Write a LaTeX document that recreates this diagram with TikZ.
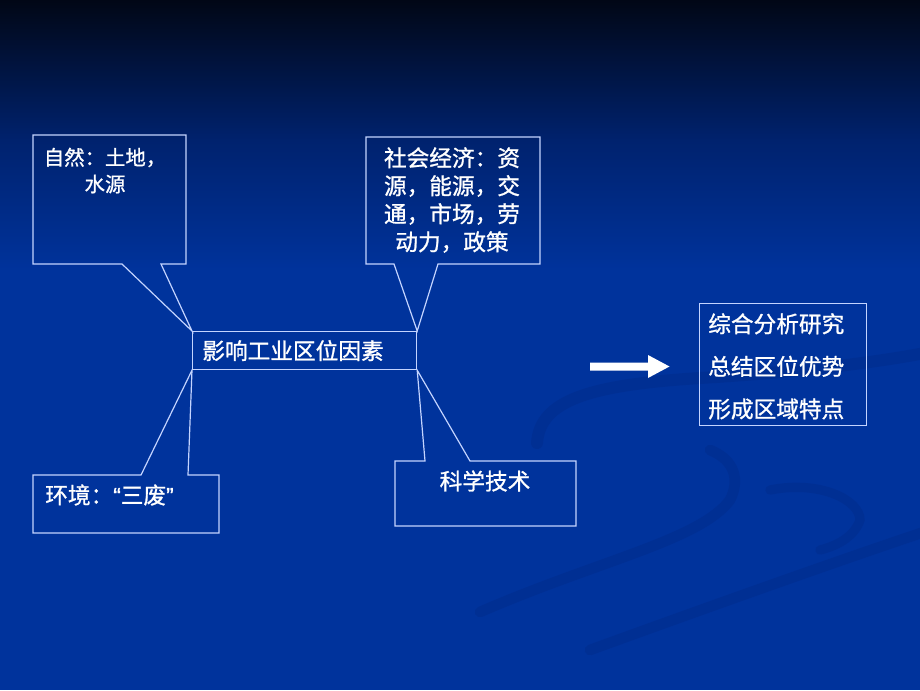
\documentclass[tikz,border=0pt]{standalone}
\usepackage{fontspec}
\setmainfont[FakeBold=1]{Noto Sans CJK SC}
\newfontfamily\latq[FakeBold=1]{Liberation Sans}
\definecolor{bgtop}{HTML}{010716}
\definecolor{bgmid}{HTML}{00226E}
\definecolor{bgblue}{HTML}{00339C}
\definecolor{swoosh}{HTML}{002680}
\definecolor{linec}{HTML}{C4D4FF}
\begin{document}
\begin{tikzpicture}[x=0.75pt,y=-0.75pt,
  callout/.style={draw=linec, line width=0.9pt, line join=miter},
  txt/.style={text=white, inner sep=0pt},
  big/.style={font=\fontsize{17pt}{21pt}\selectfont},
  small/.style={font=\fontsize{15.3pt}{20pt}\selectfont},
  swo/.style={draw=swoosh, line cap=round, opacity=0.3}]
% background
\fill[top color=bgtop, bottom color=bgmid] (0,0) rectangle (920,141);
\fill[top color=bgmid, bottom color=bgblue] (0,140) rectangle (920,271);
\fill[bgblue] (0,270) rectangle (920,690);
\useasboundingbox (0,0) rectangle (920,690);
% decorative swooshes
\draw[swo, line width=9pt] (537,443) .. controls (540,400) and (590,385) .. (700,378) .. controls (800,372) and (880,362) .. (930,352);
\draw[swo, line width=8pt] (480,612) .. controls (600,560) and (700,540) .. (730,500) .. controls (740,480) and (735,460) .. (710,450);
\draw[swo, line width=8pt] (590,650) .. controls (700,610) and (840,560) .. (930,530);
\draw[swo, line width=7pt] (770,490) .. controls (820,480) and (860,500) .. (860,520) .. controls (855,535) and (840,545) .. (820,550);
% central box
\node[draw=linec, line width=0.9pt, anchor=north west, minimum width=168pt, minimum height=28.5pt,
      inner xsep=7.3pt, inner ysep=0pt, text width=153.4pt, align=left, text=white, big] (main) at (192,331)
      {影响工业区位因素};
% callouts
\draw[callout] (33,135) -- (186,135) -- (186,264) -- (161,264) -- (main.north west) -- (122,264) -- (33,264) -- cycle;
\draw[callout] (366,137) -- (540,137) -- (540,264) -- (438,264) -- (main.north east) -- (394,264) -- (366,264) -- cycle;
\draw[callout] (33,475) -- (141,475) -- (main.south west) -- (188,475) -- (219,475) -- (219,533) -- (33,533) -- cycle;
\draw[callout] (395,461) -- (425,461) -- (main.south east) -- (470,461) -- (576,461) -- (576,526) -- (395,526) -- cycle;
% callout texts
\node[txt, small, align=center, anchor=north] (nat) at (105,147.5) {自然：土地，\\水源};
\node[txt, big, align=center, anchor=north] (soc) at (452,147) {社会经济：资\\源，能源，交\\通，市场，劳\\动力，政策};
\node[txt, big, anchor=west] (env) at (45,495) {环境：{\latq “}三废{\latq ”}};
\node[txt, big, anchor=center] (tech) at (485,481) {科学技术};
% arrow
\fill[white] (590,362.5) -- (648,362.5) -- (648,355) -- (669.5,366.5) -- (648,378) -- (648,370.5) -- (590,370.5) -- cycle;
% result box
\node[draw=linec, line width=0.9pt, anchor=north west, minimum width=125.25pt, minimum height=91.5pt, inner sep=0pt] (res) at (699,303) {};
\node[txt, font=\fontsize{17pt}{31.9pt}\selectfont, align=left, anchor=north west] (restxt) at (708,313)
  {综合分析研究\\总结区位优势\\形成区域特点};
\end{tikzpicture}
\end{document}
